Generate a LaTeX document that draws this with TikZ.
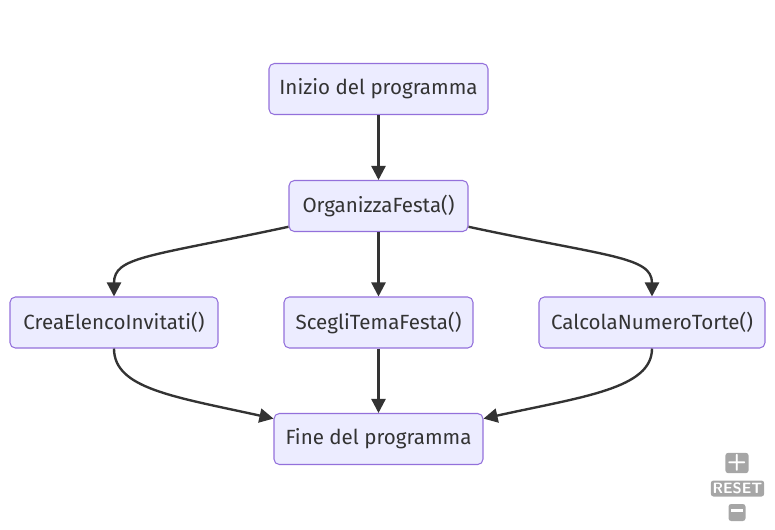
\documentclass[tikz,border=0pt]{standalone}
\usepackage{fontspec}
\setmainfont{Fira Sans}
\usepackage{xcolor}
\usepackage{tikz}
\usetikzlibrary{arrows.meta,positioning,calc}

\definecolor{mmfill}{HTML}{ECECFF}
\definecolor{mmborder}{HTML}{9370DB}
\definecolor{mmline}{HTML}{333333}
\definecolor{btngray}{HTML}{A6A6A6}

\begin{document}
\begin{tikzpicture}[x=0.02cm,y=-0.02cm,
  box/.style={draw=mmborder,fill=mmfill,rectangle,rounded corners=3pt,line width=0.6pt,minimum height=1.02cm,text=mmline,font=\fontsize{11.7}{13}\selectfont},
  arr/.style={-{Triangle[length=8pt,width=8pt]},line width=1.35pt,draw=mmline},
  zoombtn/.style={fill=btngray,text=white,rectangle,rounded corners=1.5pt,inner sep=1pt,font=\bfseries\sffamily\fontsize{8.5}{9}\selectfont}]

\useasboundingbox (0,0) rectangle (775,529);

% Start and first call
\node[box,minimum width=4.38cm] (inizio) at (378.5,89) {Inizio del programma};
\node[box,minimum width=3.58cm] (organizza) at (378.5,206) {OrganizzaFesta()};

% The three sub-steps
\node[box,minimum width=4.16cm] (crea) at (114,322.5) {CreaElencoInvitati()};
\node[box,minimum width=3.78cm] (scegli) at (378.5,322.5) {ScegliTemaFesta()};
\node[box,minimum width=4.52cm] (calcola) at (652,322.5) {CalcolaNumeroTorte()};

% End
\node[box,minimum width=4.18cm] (fine) at (378.5,439) {Fine del programma};

% Arrows
\draw[arr] (inizio) -- (organizza);
\draw[arr] (organizza.193) .. controls +(-140,30) and +(0,-40) .. (crea.north);
\draw[arr] (organizza) -- (scegli);
\draw[arr] (organizza.-13) .. controls +(140,30) and +(0,-40) .. (calcola.north);
\draw[arr] (crea.south) .. controls +(0,40) and +(-100,-22) .. (fine.169);
\draw[arr] (scegli) -- (fine);
\draw[arr] (calcola.south) .. controls +(0,40) and +(100,-22) .. (fine.11);

% Zoom controls
\node[zoombtn,minimum width=0.34cm,minimum height=0.34cm,font=\bfseries\sffamily\fontsize{13}{13}\selectfont] (plus) at (737,463) {+};
\node[zoombtn,minimum width=1.04cm,minimum height=0.32cm] (reset) at (737.5,488.5) {RESET};
\node[zoombtn,minimum width=0.34cm,minimum height=0.34cm] (minus) at (737,512.5) {\rule[0.55ex]{0.75em}{2pt}};

\end{tikzpicture}
\end{document}
